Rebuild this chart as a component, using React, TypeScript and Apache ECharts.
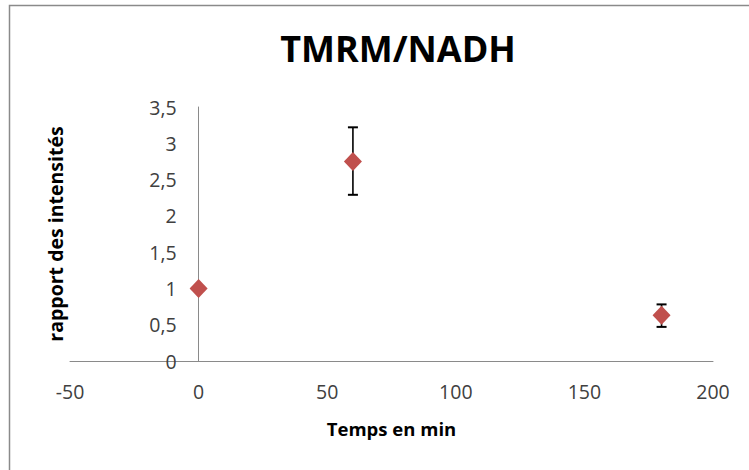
import React, { useEffect, useRef } from 'react';
import * as echarts from 'echarts';

const chartTitle = 'TMRM/NADH';
const xAxisTitle = 'Temps en min';
const yAxisTitle = 'rapport des intensités';
const times = [0, 60, 180];
const ratios = [1, 2.75, 0.63];
const errLow = [1, 2.29, 0.47];
const errHigh = [1, 3.22, 0.78];

const FONT = '"Open Sans", "Noto Sans", sans-serif';

export default function App() {
  const ref = useRef<HTMLDivElement>(null);
  useEffect(() => {
    document.body.style.margin = '0';
    const chart = echarts.init(ref.current!, null, { renderer: 'svg' });
    const scatterData = times.map((t, i) => [t, ratios[i]]);
    const errData = times.map((t, i) => [t, errLow[i], errHigh[i]]);
    const gridLeft = 70;
    const gridRight = 36;
    const xMin = -50;
    const xMax = 200;
    // place the y axis where x = 0, as in the reference
    const plotW = 749 - gridLeft - gridRight;
    const yAxisOffset = -((0 - xMin) / (xMax - xMin)) * plotW;
    chart.setOption({
      animation: false,
      backgroundColor: '#ffffff',
      textStyle: { fontFamily: FONT },
      graphic: [
        {
          type: 'rect',
          shape: { x: 9.5, y: 5.5, width: 800, height: 500 },
          style: { fill: 'none', stroke: '#8a8a8a', lineWidth: 1.5 },
          silent: true,
        },
        {
          type: 'text',
          x: 398,
          y: 48,
          style: {
            text: chartTitle,
            textAlign: 'center',
            textVerticalAlign: 'middle',
            fontFamily: FONT,
            fontSize: 36,
            fontWeight: 'bold',
            fill: '#000000',
          },
        },
      ],
      grid: { left: gridLeft, right: gridRight, top: 107, bottom: 109, containLabel: false, outerBoundsMode: 'none' },
      xAxis: {
        type: 'value',
        min: xMin,
        max: xMax,
        interval: 50,
        axisLine: { onZero: true, lineStyle: { color: '#8a8a8a', width: 1 } },
        axisTick: { show: false },
        splitLine: { show: false },
        axisLabel: { fontSize: 19.5, color: '#404040', margin: 20, fontFamily: FONT },
        name: xAxisTitle,
        nameLocation: 'middle',
        nameGap: 58,
        nameTextStyle: { fontSize: 18.5, fontWeight: 'bold', color: '#000', fontFamily: FONT },
      },
      yAxis: {
        type: 'value',
        min: 0,
        max: 3.5,
        interval: 0.5,
        offset: yAxisOffset,
        axisLine: { show: true, onZero: false, lineStyle: { color: '#8a8a8a', width: 1 } },
        axisTick: { show: false },
        splitLine: { show: false },
        axisLabel: {
          fontSize: 19.5,
          color: '#404040',
          margin: 22,
          fontFamily: FONT,
          formatter: (v: number) => String(v).replace('.', ','),
        },
        name: yAxisTitle,
        nameLocation: 'middle',
        nameRotate: 90,
        nameGap: 133,
        nameTextStyle: { fontSize: 19.5, fontWeight: 'bold', color: '#000', fontFamily: FONT },
      },
      series: [
        {
          type: 'custom',
          z: 2,
          data: errData,
          renderItem: (params: any, api: any) => {
            const x = api.value(0);
            const lo = api.coord([x, api.value(1)]);
            const hi = api.coord([x, api.value(2)]);
            const hw = 5;
            const st = { stroke: '#000000', lineWidth: 2 };
            return {
              type: 'group',
              children: [
                { type: 'line', shape: { x1: lo[0], y1: lo[1], x2: hi[0], y2: hi[1] }, style: { stroke: '#000', lineWidth: 1.6 } },
                { type: 'line', shape: { x1: lo[0] - hw, y1: lo[1], x2: lo[0] + hw, y2: lo[1] }, style: st },
                { type: 'line', shape: { x1: hi[0] - hw, y1: hi[1], x2: hi[0] + hw, y2: hi[1] }, style: st },
              ],
            };
          },
        },
        {
          type: 'scatter',
          z: 3,
          symbol: 'diamond',
          symbolSize: [18, 19],
          itemStyle: { color: '#C0504D', opacity: 1 },
          data: scatterData,
        },
      ],
    });
    return () => chart.dispose();
  }, []);
  return <div ref={ref} style={{ width: 749, height: 470 }} />;
}
